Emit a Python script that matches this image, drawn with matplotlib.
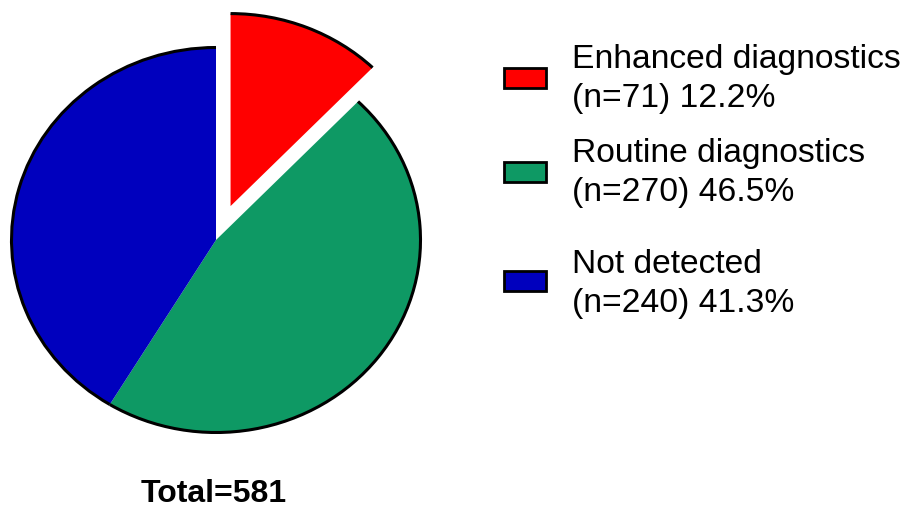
import matplotlib
matplotlib.use("Agg")
import matplotlib.pyplot as plt
from matplotlib.patches import Arc, Rectangle

plt.rcParams['font.family'] = ['Liberation Sans', 'DejaVu Sans']

# Data
categories = ["Enhanced diagnostics", "Routine diagnostics", "Not detected"]
counts = [71, 270, 240]
percents = [12.2, 46.5, 41.3]
total = 581
colors = ["#FF0000", "#0E9964", "#0000BE"]

W, H = 906, 508
fig = plt.figure(figsize=(W / 100, H / 100), dpi=100)

# Pie axes (pixel geometry: center (216, 240), radii 204 x 192)
cx, cy, rx, ry = 216, 240, 204.5, 192.5
ax = fig.add_axes([(cx - rx) / W, (H - cy - ry) / H, 2 * rx / W, 2 * ry / H])
wedges, _ = ax.pie(counts, colors=colors, startangle=90, counterclock=False,
                   explode=[0.19, 0, 0], wedgeprops=dict(linewidth=0))
ax.set_aspect('auto')
ax.set_xlim(-1, 1)
ax.set_ylim(-1, 1)
ax.axis('off')

# Black outline only along each wedge's outer arc
for w in wedges:
    w.set_clip_on(False)
    arc = Arc(w.center, 2 * w.r, 2 * w.r, theta1=w.theta1, theta2=w.theta2,
              color='black', linewidth=2.2, clip_on=False)
    ax.add_patch(arc)

# Legend drawn in figure pixel coordinates
box_y = [78, 172, 281]
text_y = [79, 173, 284]
for cat, n, p, c, y, ty in zip(categories, counts, percents, colors, box_y, text_y):
    fig.patches.append(Rectangle((504 / W, (H - y - 10) / H), 42 / W, 20 / H,
                                 transform=fig.transFigure, facecolor=c,
                                 edgecolor='black', linewidth=2.0))
    fig.text(572 / W, (H - ty) / H, f"{cat}\n(n={n}) {p}%", fontsize=24.2,
             va='center', ha='left', linespacing=1.3)

fig.text(214 / W, (H - 494) / H, f"Total={total}", fontsize=23,
         fontweight='bold', ha='center', va='center')

fig.savefig("out.png", dpi=100)
